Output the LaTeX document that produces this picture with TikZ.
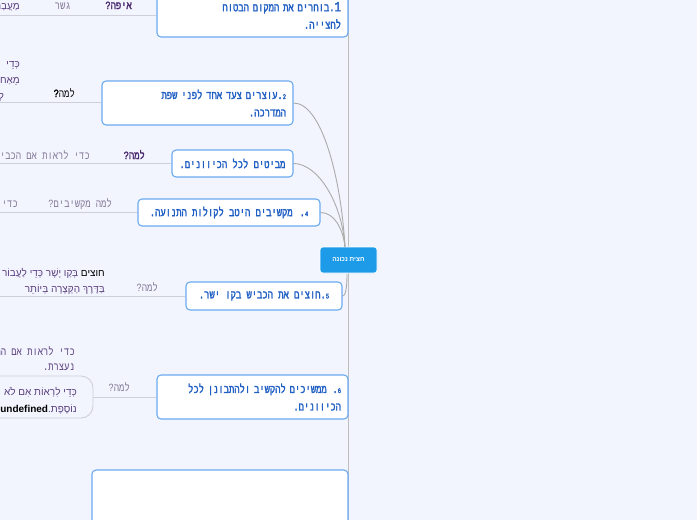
\documentclass[tikz,border=0pt]{standalone}
\usepackage{fontspec}
\setmainfont{Liberation Sans}
\newfontfamily\hebmono[Script=Hebrew,FakeStretch=0.76,FakeBold=2.2]{Liberation Mono}
\newfontfamily\hebmonolt[Script=Hebrew,FakeStretch=0.8]{Liberation Mono}
\newfontfamily\hebmonolb[Script=Hebrew,FakeStretch=0.8,FakeBold=2]{Liberation Mono}
\newfontfamily\hebsans[Script=Hebrew]{Liberation Sans}
\TeXXeTstate=1
\newcommand{\RL}[1]{\beginR #1\endR}
\newcommand{\smalld}[1]{{\fontsize{7}{7}\selectfont #1}}
\definecolor{bgc}{HTML}{F2F5FD}
\definecolor{boxline}{HTML}{6AAAF0}
\definecolor{boxtext}{HTML}{1F5FC4}
\definecolor{hubfill}{HTML}{1E9BE8}
\definecolor{hline}{HTML}{CFCFDA}
\definecolor{conn}{HTML}{ABABAB}
\definecolor{vline}{HTML}{BDBDBD}
\definecolor{purp}{HTML}{5B3F80}
\definecolor{dpurp}{HTML}{4A2870}
\definecolor{lpurp}{HTML}{857898}
\tikzset{
  stepbox/.style={draw=boxline, line width=1.1pt, fill=white, rounded corners=4pt,
    inner xsep=6pt, inner ysep=3pt, align=right, text=boxtext,
    font=\hebmono\fontsize{11.6}{17.5}\selectfont},
  hubbox/.style={draw=white, line width=0.6pt, fill=hubfill, rounded corners=3pt,
    minimum width=57pt, minimum height=26pt, text=white,
    font=\hebsans\bfseries\fontsize{6.5}{7}\selectfont},
  conline/.style={draw=conn, line width=0.9pt},
  sideline/.style={draw=hline, line width=0.9pt},
  lbl/.style={anchor=base east, inner sep=0pt, text=purp,
    font=\hebmonolt\fontsize{11}{15}\selectfont},
  blbl/.style={lbl, text=dpurp, font=\hebmonolb\fontsize{11}{15}\selectfont},
  ptd/.style={anchor=base east, inner sep=0pt, text=purp,
    font=\hebsans\fontsize{10}{15}\selectfont}
}
\begin{document}
\begin{tikzpicture}[x=1pt,y=-1pt]
\useasboundingbox (0,0) rectangle (697,520);
\fill[bgc] (0,0) rectangle (697,520);
\clip (0,0) rectangle (697,520);
% vertical trunk
\coordinate (vtop) at (348.5,-5);
\coordinate (vbot) at (348.5,525);
\draw[draw=vline, line width=1.5pt] (vtop) -- (vbot);
% hub
\node[hubbox] (hub) at (348.5,260) {\RL{חצית נכונה}};
\coordinate (hubtop) at (345,247);
\coordinate (hubbot) at (347,274);
% boxes
\node[stepbox, minimum width=191pt, minimum height=43pt, text width=177pt] (b1) at (252.5,15.5)
  {\RL{{\fontsize{14}{14}\selectfont 1}.בוחרים את המקום הבטוח}\\\RL{לחצייה.}};
\node[stepbox, minimum width=191pt, minimum height=44pt, text width=177pt] (b2) at (197.5,103)
  {\RL{\smalld{2}.עוצרים צעד אחד לפני שפת}\\\RL{המדרכה.}};
\node[stepbox, minimum width=121pt, minimum height=27pt] (b3) at (232.5,163.5)
  {\RL{מביטים לכל הכיוונים.}};
\node[stepbox, minimum width=182pt, minimum height=27pt] (b4) at (229,212.5)
  {\RL{\smalld{4}. מקשיבים היטב לקולות התנועה.}};
\node[stepbox, minimum width=156pt, minimum height=28pt] (b5) at (264,296)
  {\RL{\smalld{5}.חוצים את הכביש בקו ישר.}};
\node[stepbox, minimum width=191pt, minimum height=44pt, text width=177pt] (b6) at (252.5,397)
  {\RL{\smalld{6}. ממשיכים להקשיב ולהתבונן לכל}\\\RL{הכיוונים.}};
\node[stepbox, minimum width=256pt, minimum height=72pt] (b7) at (220,506) {};
% connectors from hub
\draw[conline] (b2.east) .. controls +(28,0) and +(-4,-70) .. (hubtop);
\draw[conline] (b3.east) .. controls +(24,0) and +(-3,-45) .. (hubtop);
\draw[conline] (b4.east) .. controls +(14,0) and +(-2,-18) .. (hubtop);
\draw[conline] (b5.east) .. controls +(4,0) and +(0,8) .. (hubbot);
% side branches
\coordinate (l1) at (0,15);
\draw[sideline] (l1) -- (b1.west |- l1);
\node[blbl] (w1) at (132,9) {\RL{איפה?}};
\node[lbl, text=lpurp] (g1) at (71,9) {\RL{גשר}};
\node[ptd] (m1) at (20,9) {\RL{מַעֲבַר}};

\coordinate (l2) at (0,102);
\draw[sideline] (l2) -- (b2.west |- l2);
\node[lbl, text=lpurp] (w2) at (75,97) {\RL{למה{\color{black}\hebmonolb ?}}};
\node[ptd] (k2a) at (20,67) {\RL{כְּדֵי}};
\node[ptd] (k2b) at (20,83) {\RL{מֵאַחוֹר}};
\node[ptd] (k2c) at (4,99) {\RL{לְ}};

\coordinate (l3) at (0,163);
\draw[sideline] (l3) -- (b3.west |- l3);
\node[blbl] (w3) at (145,159) {\RL{למה?}};
\node[lbl, text=lpurp] (k3) at (90,159) {\RL{כדי לראות אם הכביש}};

\coordinate (l4) at (0,212);
\draw[sideline] (l4) -- (b4.west |- l4);
\node[lbl, text=lpurp] (w4) at (112,207) {\RL{למה מקשיבים?}};
\node[lbl, text=lpurp] (k4) at (18,207) {\RL{כדי}};

\coordinate (l5) at (0,296);
\draw[sideline] (l5) -- (b5.west |- l5);
\node[lbl, text=lpurp] (w5) at (158,291) {\RL{למה?}};
\node[ptd] (k5a) at (105,276) {\RL{{\color{black!80}חוצים} בְּקַו יָשָׁר כְּדֵי לַעֲבוֹר}};
\node[ptd] (k5b) at (105,292) {\RL{בַּדֶּרֶךְ הַקְּצָרָה בְּיוֹתֵר}};

\coordinate (l6) at (93,397);
\draw[sideline] (l6) -- (b6.west |- l6);
\node[lbl, text=lpurp] (w6) at (130,391) {\RL{למה?}};
\node[draw=hline, line width=0.9pt, rounded corners=12pt, minimum width=110pt, minimum height=42pt] (r6) at (38,397) {};
\node[ptd] (k6a) at (77,395) {\RL{כְּדֵי לִרְאוֹת אִם לֹא}};
\node[ptd] (k6b) at (77,412) {\RL{נוֹסֶפֶת.\beginL{\color{black}\bfseries undefined}\endL{}}};
\node[lbl] (k6c) at (75,355) {\RL{כדי לראות אם המ}};
\node[lbl] (k6d) at (75,370) {\RL{נעצרת.}};
\end{tikzpicture}
\end{document}
